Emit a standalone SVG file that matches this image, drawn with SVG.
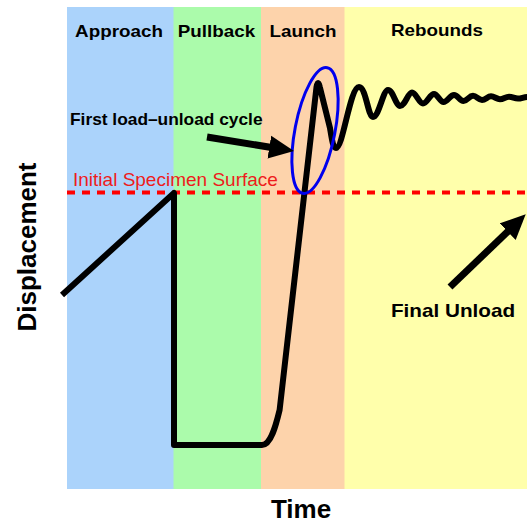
<svg xmlns="http://www.w3.org/2000/svg" width="527" height="524" viewBox="0 0 527 524">
  <style>
    .lbl { font-family: "Liberation Sans", Arial, sans-serif; font-weight: bold; fill: #000; }
    .curve { fill: none; stroke: #000; stroke-width: 6; stroke-linejoin: round; }
    .arrow { fill: none; stroke: #000; stroke-width: 7; }
  </style>
  <defs>
    <marker id="ah" markerUnits="userSpaceOnUse" markerWidth="26" markerHeight="24" refX="10" refY="11.5" orient="auto" viewBox="0 0 26 23">
      <path d="M0,0 L25,11.5 L0,23 Z" fill="#000"/>
    </marker>
  </defs>
  <rect width="527" height="524" fill="#fff"/>
  <g id="bands">
    <rect x="67" y="7" width="107" height="482" fill="#abd3fb"/>
    <rect x="173.5" y="7" width="88" height="482" fill="#abfbab"/>
    <rect x="261" y="7" width="84" height="482" fill="#fdd3ab"/>
    <rect x="344.5" y="7" width="183" height="482" fill="#ffffab"/>
  </g>
  <g id="phase-labels" class="lbl" font-size="16.5" text-anchor="middle">
    <text transform="translate(119,37) scale(1.14,1)">Approach</text>
    <text transform="translate(216.5,37) scale(1.14,1)">Pullback</text>
    <text transform="translate(303,37) scale(1.14,1)">Launch</text>
    <text transform="translate(437,36) scale(1.14,1)">Rebounds</text>
  </g>
  <g id="surface">
    <line x1="67" y1="192.5" x2="527" y2="192.5" stroke="#ff0000" stroke-width="4" stroke-dasharray="8,7"/>
    <text x="73" y="186" font-family="'Liberation Sans', Arial, sans-serif" font-size="19" fill="#ee1c1c">Initial Specimen Surface</text>
  </g>
  <g id="displacement-curve">
    <path class="curve" d="M 62 295 L 174 193 L 174 445 L 262 445 C 271 445, 276 425, 279.6 410 L 316.5 87 Q 318 79 319.8 87 L 330 128 C 332 140, 333 148, 336 148 C 343 148, 350 87, 359 87 C 366 87, 368 117, 373 117 C 379 117, 383 90, 388 90 C 393 90, 396 106, 400 106 C 405 106, 408 92.5, 412 92.5 C 416 92.5, 419 103.5, 423 103.5 C 427 103.5, 430 94, 434 94 C 437.5 94, 440 102, 443.5 102 C 447.5 102, 450 95, 454 95 C 458 95, 459.5 101, 463.5 101 C 467.5 101, 469 95.8, 473 95.8 C 476.5 95.8, 478.5 100, 482 100 C 485.5 100, 487.5 96.3, 491 96.3 C 494.5 96.3, 496.5 99.2, 500 99.2 C 503.5 99.2, 505.5 96.7, 509 96.7 C 512.5 96.7, 514.5 98.6, 518 98.6 C 521.5 98.6, 523.5 97, 527 97"/>
  </g>
  <g id="first-cycle">
    <ellipse cx="315" cy="130.5" rx="20" ry="64" transform="rotate(11 315 130.5)" fill="none" stroke="#0000ee" stroke-width="3"/>
    <text class="lbl" font-size="17" transform="translate(70,125) scale(1.02,1)">First load–unload cycle</text>
  </g>
  <g id="final-unload">
    <text class="lbl" font-size="18" text-anchor="middle" transform="translate(453,317) scale(1.15,1)">Final Unload</text>
  </g>
  <g id="connectors">
    <line class="arrow" x1="207" y1="137" x2="279.2" y2="148.7" marker-end="url(#ah)"/>
    <line class="arrow" x1="450" y1="287" x2="514.9" y2="224.7" marker-end="url(#ah)"/>
  </g>
  <g id="axes" class="lbl" font-size="26" text-anchor="middle">
    <text x="301" y="518">Time</text>
    <text transform="translate(36,247) rotate(-90)">Displacement</text>
  </g>
</svg>
